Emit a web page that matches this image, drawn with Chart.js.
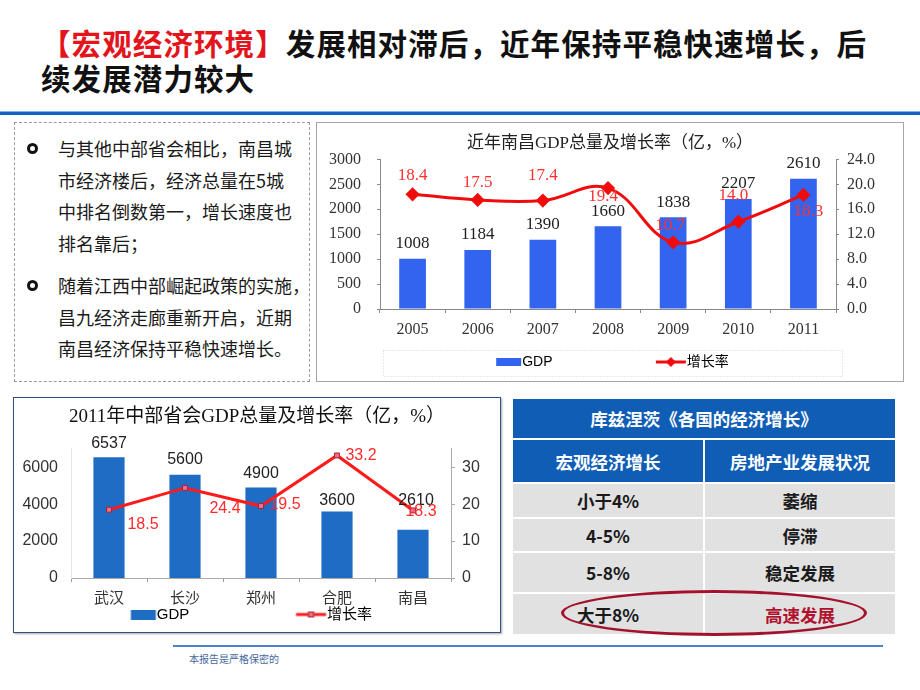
<!DOCTYPE html>
<html>
<head>
<meta charset="utf-8">
<script src="https://cdn.jsdelivr.net/npm/chart.js@4.4.1/dist/chart.umd.min.js"></script>
<style>
  body { margin: 0; width: 920px; height: 690px; background: #fff; position: relative; overflow: hidden;
         font-family: "Noto Sans CJK SC", sans-serif; }
  .abs { position: absolute; }
  .title { left: 41px; font-size: 29.5px; font-weight: 700; line-height: 35px; color: #111; white-space: nowrap; letter-spacing: 1.1px; }
  .title .red { color: #e3141b; }
  .rule { left: 0; width: 920px; top: 111px; height: 3px; background: #1461c4; border-top: 1px solid #7fb2ea; }
  .notes { left: 14px; top: 122px; width: 294px; height: 258px; border: 1px dashed #9c9c9c; }
  .notes p { position: absolute; left: 43px; margin: 0; font-size: 18px; line-height: 31.5px; color: #1a1a1a; white-space: nowrap; }
  .notes p::before { content: ""; position: absolute; left: -31px; top: 10px; width: 5px; height: 5px;
                     border: 3px solid #111; border-radius: 50%; }
  .box1 { left: 316px; top: 122px; width: 586px; height: 258px; border: 1px solid #a6a6a6; }
  .box2 { left: 13px; top: 397px; width: 486px; height: 234px; border: 1px solid #34507e;
          box-shadow: 1px 1px 2px rgba(0,0,0,0.35); }
  canvas { display: block; }
  table { left: 511px; top: 397px; width: 386px; border-collapse: collapse; table-layout: fixed; }
  td { text-align: center; font-weight: 700; font-size: 17.5px; padding: 0; border: 2px solid #fff; }
  td.h { background: #0f5db5; color: #fff; }
  td.b { background: #e1e1e1; color: #1a1a1a; }
  td.hot { color: #b0122e; }
  .ring { left: 561px; top: 590px; width: 300px; height: 40px; border: 3px solid #a3122d; border-radius: 50%; }
  .foot { left: 173px; top: 645px; width: 710px; height: 2px; background: #4a82c8; }
  .foottxt { left: 189px; top: 651px; font-size: 10px; color: #4468a0; white-space: nowrap; }
</style>
</head>
<body>

<div class="abs title" style="top:25px"><span class="red">【宏观经济环境】</span>发展相对滞后，近年保持平稳快速增长，后</div>
<div class="abs title" style="top:60px">续发展潜力较大</div>
<div class="abs rule"></div>

<div class="abs notes">
  <p style="top:10px">与其他中部省会相比，南昌城<br>市经济楼后，经济总量在5城<br>中排名倒数第一，增长速度也<br>排名靠后；</p>
  <p style="top:147px">随着江西中部崛起政策的实施，<br>昌九经济走廊重新开启，近期<br>南昌经济保持平稳快速增长。</p>
</div>

<div class="abs box1"><canvas id="c1" width="586" height="258"></canvas></div>
<div class="abs box2"><canvas id="c2" width="486" height="234"></canvas></div>

<table class="abs" id="tbl"></table>
<div class="abs ring"></div>

<div class="abs foot"></div>
<div class="abs foottxt">本报告是严格保密的</div>

<script>
// 近年南昌GDP
const years = ['2005', '2006', '2007', '2008', '2009', '2010', '2011'];
const ncGdp = [1008, 1184, 1390, 1660, 1838, 2207, 2610];
const ncGrowth = [18.4, 17.5, 17.4, 19.4, 10.7, 14.0, 18.3];
const ncGdpTicks = [0, 500, 1000, 1500, 2000, 2500, 3000];
const ncRateTicks = [0, 4, 8, 12, 16, 20, 24];

// 2011年中部省会
const cities = ['武汉', '长沙', '郑州', '合肥', '南昌'];
const cityGdp = [6537, 5600, 4900, 3600, 2610];
const cityGrowth = [18.5, 24.4, 19.5, 33.2, 18.3];
const cityGdpTicks = [0, 2000, 4000, 6000];
const cityRateTicks = [0, 10, 20, 30];

// 库兹涅茨 table
const tableTitle = '库兹涅茨《各国的经济增长》';
const tableHead = ['宏观经济增长', '房地产业发展状况'];
const tableRows = [['小于4%', '萎缩'], ['4-5%', '停滞'], ['5-8%', '稳定发展'], ['大于8%', '高速发展']];
const rowHeights = [41, 44, 35, 34, 41, 42];

// table
(function () {
  let html = `<tr style="height:${rowHeights[0]}px"><td class="h" colspan="2">${tableTitle}</td></tr>`;
  html += `<tr style="height:${rowHeights[1]}px"><td class="h">${tableHead[0]}</td><td class="h">${tableHead[1]}</td></tr>`;
  tableRows.forEach((r, i) => {
    const hot = i === tableRows.length - 1 ? ' hot' : '';
    html += `<tr style="height:${rowHeights[i + 2]}px"><td class="b">${r[0]}</td><td class="b${hot}">${r[1]}</td></tr>`;
  });
  document.getElementById('tbl').innerHTML = html;
})();

// small value-label plugin
function valueLabels(sets) {
  return {
    id: 'valueLabels',
    afterDatasetsDraw(chart) {
      const ctx = chart.ctx;
      sets.forEach(s => {
        const meta = chart.getDatasetMeta(s.index);
        const data = chart.data.datasets[s.index].data;
        ctx.save();
        ctx.font = s.font;
        ctx.fillStyle = s.color;
        ctx.textAlign = 'center';
        ctx.textBaseline = 'middle';
        meta.data.forEach((el, i) => {
          const off = s.offsets[i] || [0, 0];
          ctx.fillText(s.format(data[i]), el.x + off[0], el.y + off[1]);
        });
        ctx.restore();
      });
    }
  };
}

// legend markers: 40px wide canvases, mark sits against the label text
function icon(h, draw) {
  const c = document.createElement('canvas');
  c.width = 40; c.height = h;
  draw(c.getContext('2d'));
  return c;
}

const fixTicks = list => s => { s.ticks = list.map(v => ({ value: v })); };

const serif = '"Liberation Serif", "Noto Sans CJK SC", serif';
const sans = '"Liberation Sans", "Noto Sans CJK SC", sans-serif';

// ---------- chart 1 ----------
const blue1 = '#3264f0';
const red1 = '#f00c0c';
const gdpIcon1 = icon(8, g => { g.fillStyle = blue1; g.fillRect(13, 0, 25, 8); });
const lineIcon1 = icon(12, g => {
  g.strokeStyle = red1; g.lineWidth = 3;
  g.beginPath(); g.moveTo(8, 6); g.lineTo(38, 6); g.stroke();
  g.fillStyle = red1; g.beginPath();
  g.moveTo(23, 1); g.lineTo(28, 6); g.lineTo(23, 11); g.lineTo(18, 6); g.closePath(); g.fill();
});

const legendFrame = {
  id: 'legendFrame',
  afterDraw(chart) {
    const ctx = chart.ctx, a = chart.chartArea, lg = chart.legend;
    ctx.save();
    ctx.strokeStyle = '#d4d4d4';
    ctx.setLineDash([1, 2]);
    ctx.strokeRect(a.left + 3.5, lg.top + 5.5, a.right - a.left + 3, lg.bottom - lg.top - 8);
    ctx.restore();
  }
};

new Chart(document.getElementById('c1'), {
  type: 'bar',
  data: {
    labels: years,
    datasets: [
      { label: 'GDP', data: ncGdp, backgroundColor: blue1, yAxisID: 'y',
        barPercentage: 0.41, categoryPercentage: 1, order: 2 },
      { type: 'line', label: '增长率', data: ncGrowth, yAxisID: 'y1', borderColor: red1, borderWidth: 3,
        tension: 0.4, pointStyle: 'rectRot', pointRadius: 5, pointBackgroundColor: red1,
        pointBorderColor: red1, order: 1 }
    ]
  },
  options: {
    responsive: false, animation: false, devicePixelRatio: 1,
    layout: { padding: { left: 0, right: 0, top: 0, bottom: 2 } },
    plugins: {
      tooltip: { enabled: false },
      title: { display: true, text: '近年南昌GDP总量及增长率（亿，%）', color: '#222',
               font: { family: serif, size: 17, weight: 'normal' }, padding: { top: 10, bottom: 6 } },
      legend: {
        position: 'bottom',
        labels: {
          usePointStyle: true, pointStyleWidth: 24, padding: 10, color: '#333',
          font: { family: sans, size: 14 },
          generateLabels: () => [
            { text: 'GDP' + ' '.repeat(24), pointStyle: gdpIcon1, fillStyle: blue1, strokeStyle: blue1, lineWidth: 0, datasetIndex: 0 },
            { text: '增长率', pointStyle: lineIcon1, fillStyle: red1, strokeStyle: red1, lineWidth: 0, datasetIndex: 1 }
          ]
        }
      }
    },
    scales: {
      x: {
        grid: { drawOnChartArea: false, tickLength: 4, color: '#888', offset: true },
        border: { color: '#888' },
        ticks: { padding: 7, color: '#333', font: { family: serif, size: 16 } },
        afterFit: s => { s.height = 36; }
      },
      y: {
        position: 'left', min: 0, max: 3000,
        grid: { drawOnChartArea: false, tickLength: 3, color: '#888' },
        border: { color: '#888' },
        ticks: { padding: 16, color: '#333', font: { family: serif, size: 16 }, callback: v => String(v) },
        afterBuildTicks: fixTicks(ncGdpTicks),
        afterFit: s => { s.width = 63; }
      },
      y1: {
        position: 'right', min: 0, max: 24,
        grid: { drawOnChartArea: false, tickLength: 3, color: '#888' },
        border: { color: '#888' },
        ticks: { padding: 8, color: '#333', font: { family: serif, size: 16 }, callback: v => v.toFixed(1) },
        afterBuildTicks: fixTicks(ncRateTicks),
        afterFit: s => { s.width = 67; }
      }
    }
  },
  plugins: [legendFrame, valueLabels([
    { index: 0, font: '17px ' + serif, color: '#222', format: v => String(v),
      offsets: [[0, -15], [0, -15], [0, -15], [0, -15], [0, -15], [0, -15], [0, -15]] },
    { index: 1, font: '17px ' + serif, color: '#ff3030', format: v => v.toFixed(1),
      offsets: [[0, -19], [0, -17], [0, -25], [-5, 8], [-3, -17], [-5, -26], [5, 17]] }
  ])]
});

// ---------- chart 2 ----------
const blue2 = '#1f6cc4';
const red2 = '#ff1a1a';
const gdpIcon2 = icon(10, g => { g.fillStyle = blue2; g.fillRect(13.5, 0, 25, 10); });
const lineIcon2 = icon(10, g => {
  g.strokeStyle = red2; g.lineWidth = 3;
  g.beginPath(); g.moveTo(8.5, 5); g.lineTo(38.5, 5); g.stroke();
  g.fillStyle = '#e8708a'; g.fillRect(20.5, 2, 6, 6);
  g.strokeStyle = '#b02030'; g.lineWidth = 1; g.strokeRect(21, 2.5, 5, 5);
});

new Chart(document.getElementById('c2'), {
  type: 'bar',
  data: {
    labels: cities,
    datasets: [
      { label: 'GDP', data: cityGdp, backgroundColor: blue2, yAxisID: 'y',
        barPercentage: 0.41, categoryPercentage: 1, order: 2 },
      { type: 'line', label: '增长率', data: cityGrowth, yAxisID: 'y1', borderColor: red2, borderWidth: 3,
        tension: 0, pointStyle: 'rect', pointRadius: 3.5, pointBackgroundColor: '#e8708a',
        pointBorderColor: '#b02030', pointBorderWidth: 1, order: 1 }
    ]
  },
  options: {
    responsive: false, animation: false, devicePixelRatio: 1,
    layout: { padding: 0 },
    plugins: {
      tooltip: { enabled: false },
      title: { display: true, text: '2011年中部省会GDP总量及增长率（亿，%）', color: '#111',
               font: { family: serif, size: 19, weight: 'normal' }, padding: { top: 8, bottom: 20 } },
      legend: {
        position: 'bottom',
        labels: {
          usePointStyle: true, pointStyleWidth: 24, padding: 2, color: '#222',
          font: { family: sans, size: 15 },
          generateLabels: () => [
            { text: 'GDP' + ' '.repeat(25), pointStyle: gdpIcon2, fillStyle: blue2, strokeStyle: blue2, lineWidth: 0, datasetIndex: 0 },
            { text: '增长率' + ' '.repeat(4), pointStyle: lineIcon2, fillStyle: red2, strokeStyle: red2, lineWidth: 0, datasetIndex: 1 }
          ]
        }
      }
    },
    scales: {
      x: {
        grid: { drawOnChartArea: false, tickLength: 4, color: '#999', offset: true },
        border: { color: '#aaa' },
        ticks: { padding: 8, color: '#333', font: { family: sans, size: 15 } },
        afterFit: s => { s.height = 27; }
      },
      y: {
        position: 'left', min: 0, max: 7000,
        grid: { display: false, drawTicks: false },
        border: { color: '#e4e4e4' },
        ticks: { padding: 13, color: '#333', font: { family: sans, size: 16 }, callback: v => String(v) },
        afterBuildTicks: fixTicks(cityGdpTicks),
        afterFit: s => { s.width = 57; }
      },
      y1: {
        position: 'right', min: 0, max: 35,
        grid: { drawOnChartArea: false, tickLength: 4, color: '#aaa' },
        border: { color: '#aaa' },
        ticks: { padding: 7, color: '#333', font: { family: sans, size: 16 }, callback: v => String(v) },
        afterBuildTicks: fixTicks(cityRateTicks),
        afterFit: s => { s.width = 49; }
      }
    }
  },
  plugins: [valueLabels([
    { index: 0, font: '16px ' + sans, color: '#222', format: v => String(v),
      offsets: [[0, -14], [0, -15], [0, -14], [0, -11], [3, -29]] },
    { index: 1, font: '16px ' + sans, color: '#ff2a2a', format: v => v.toFixed(1),
      offsets: [[34, 15], [40, 21], [24, -1], [24, 0], [8, 1]] }
  ])]
});
</script>
</body>
</html>
